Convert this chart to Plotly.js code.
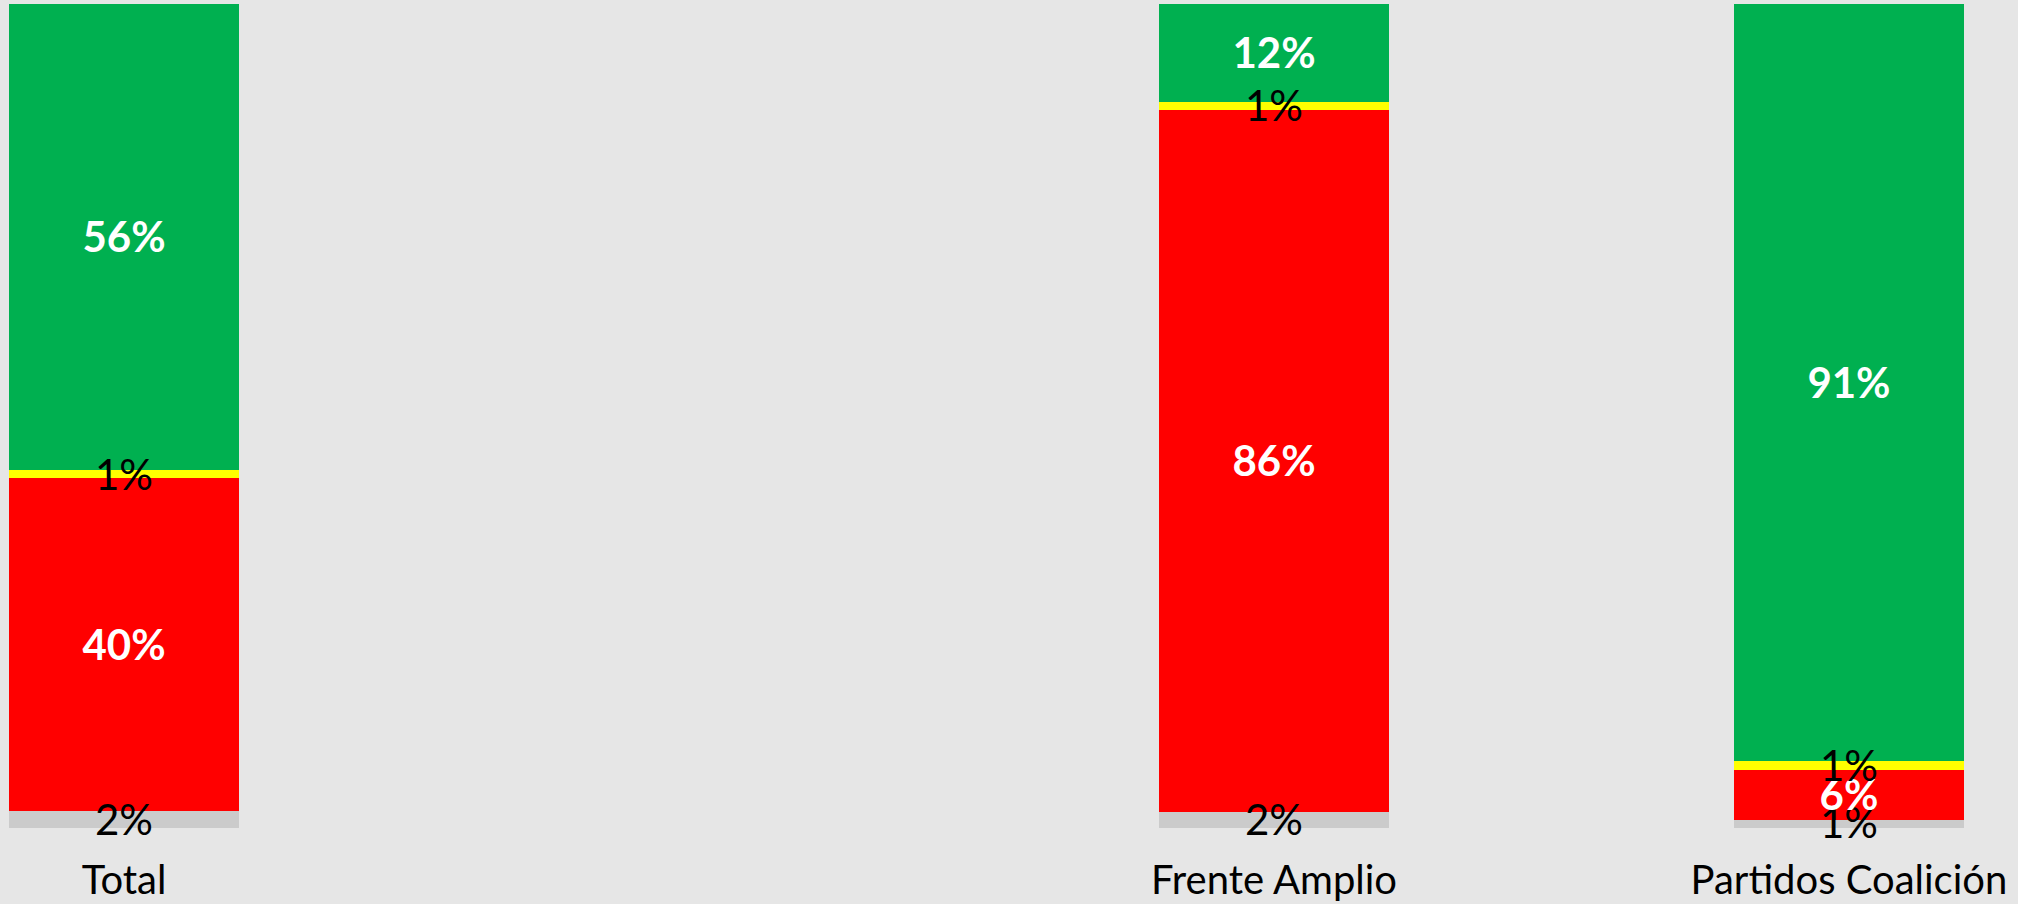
<!DOCTYPE html>
<html>
<head>
<meta charset="utf-8">
<script src="https://cdn.plot.ly/plotly-3.0.1.min.js"></script>
<style>html,body{margin:0;padding:0;background:#E6E6E6;}#chart{width:2018px;height:904px;}</style>
</head>
<body>
<div id="chart"></div>
<script>
// Categories (the blank one is an empty slot in the original chart)
var categories = ['Total', ' ', 'Frente Amplio', 'Partidos Coalición'];
// Series values (percent, as labelled), stacked bottom to top
var noSabe      = [2, null, 2, 1];
var desaprueba  = [40, null, 86, 6];
var neutral     = [1, null, 1, 1];
var aprueba     = [56, null, 12, 91];

var series = [
  {name: 'NS/NC', vals: noSabe, color: '#CBCBCB', txt: '#000000', bold: false},
  {name: 'Desaprueba', vals: desaprueba, color: '#FF0000', txt: '#FFFFFF', bold: true},
  {name: 'Ni aprueba ni desaprueba', vals: neutral, color: '#FFFF00', txt: '#000000', bold: false},
  {name: 'Aprueba', vals: aprueba, color: '#00B050', txt: '#FFFFFF', bold: true}
];

var FONT = 'Lato, "Open Sans", sans-serif';
var LABEL_SHIFT = 0.6; // small downward nudge of labels, in % of axis

// totals per category for 100% normalisation
var totals = categories.map(function(c, i){
  var s = 0; series.forEach(function(se){ if (se.vals[i] !== null) s += se.vals[i]; }); return s;
});

var data = [];
series.forEach(function(se){
  data.push({
    type: 'bar', name: se.name, x: categories, y: se.vals,
    marker: {color: se.color, line: {width: 0}},
    textposition: 'none', hoverinfo: 'skip', showlegend: false
  });
});

// label traces at the middle of each normalised segment
var cum = categories.map(function(){ return 0; });
series.forEach(function(se){
  var xs = [], ys = [], ts = [];
  categories.forEach(function(c, i){
    var v = se.vals[i];
    if (v === null) return;
    var mid = Math.max((cum[i] + v / 2) / totals[i] * 100 - LABEL_SHIFT, 0.05);
    cum[i] += v;
    xs.push(c); ys.push(mid); ts.push(v + '%');
  });
  data.push({
    type: 'scatter', mode: 'text', x: xs, y: ys, text: ts,
    textposition: 'middle center',
    textfont: {family: FONT, size: 42, color: se.txt, weight: se.bold ? 'bold' : 'normal'},
    cliponaxis: false, hoverinfo: 'skip', showlegend: false
  });
});

var layout = {
  width: 2018, height: 904,
  barmode: 'stack', barnorm: 'percent', bargap: 0.6,
  paper_bgcolor: '#E6E6E6', plot_bgcolor: '#E6E6E6',
  margin: {l: 0, r: 0, t: 4, b: 76, pad: 0},
  xaxis: {
    type: 'category', categoryorder: 'array', categoryarray: categories,
    range: [-0.2157, 3.294], showgrid: false, zeroline: false, showline: false,
    ticks: '', ticklabelstandoff: 25,
    tickfont: {family: FONT, size: 40, color: '#000000'}
  },
  yaxis: {range: [0, 100], visible: false, showgrid: false, zeroline: false},
  font: {family: FONT}
};

Plotly.newPlot('chart', data, layout, {staticPlot: true, displayModeBar: false});
</script>
</body>
</html>
